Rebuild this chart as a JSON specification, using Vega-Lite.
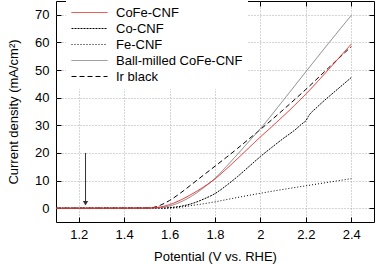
{
  "$schema": "https://vega.github.io/schema/vega-lite/v6.json",
  "width": 318,
  "height": 221,
  "autosize": {"type": "none"},
  "padding": {"left": 56, "top": 1, "right": 2, "bottom": 42},
  "config": {
    "view": {"stroke": "#000", "strokeWidth": 1},
    "font": "Liberation Sans",
    "axis": {
      "labelFont": "Liberation Sans",
      "labelFontSize": 13,
      "labelColor": "#000",
      "titleFont": "Liberation Sans",
      "titleFontSize": 13,
      "titleFontWeight": "normal",
      "titleColor": "#000",
      "domain": false,
      "tickColor": "#000",
      "tickSize": -5,
      "gridColor": "#aaaaaa",
      "gridDash": [1, 2],
      "gridWidth": 1
    },
    "legend": {
      "labelFont": "Liberation Sans",
      "labelFontSize": 13,
      "labelColor": "#000"
    }
  },
  "datasets": {
    "curves": [
      {"s": "Fe-CNF", "v": 1.1, "j": 0}, {"s": "Fe-CNF", "v": 1.6, "j": 0.05}, {"s": "Fe-CNF", "v": 1.65, "j": 0.4}, {"s": "Fe-CNF", "v": 1.7, "j": 1.0}, {"s": "Fe-CNF", "v": 1.75, "j": 1.6}, {"s": "Fe-CNF", "v": 1.8, "j": 2.3}, {"s": "Fe-CNF", "v": 1.9, "j": 3.9}, {"s": "Fe-CNF", "v": 2.0, "j": 5.4}, {"s": "Fe-CNF", "v": 2.1, "j": 6.8}, {"s": "Fe-CNF", "v": 2.2, "j": 8.1}, {"s": "Fe-CNF", "v": 2.3, "j": 9.4}, {"s": "Fe-CNF", "v": 2.4, "j": 10.7},
      {"s": "Co-CNF", "v": 1.1, "j": 0}, {"s": "Co-CNF", "v": 1.58, "j": 0.05}, {"s": "Co-CNF", "v": 1.6, "j": 0.2}, {"s": "Co-CNF", "v": 1.65, "j": 0.7}, {"s": "Co-CNF", "v": 1.7, "j": 1.7}, {"s": "Co-CNF", "v": 1.75, "j": 3.3}, {"s": "Co-CNF", "v": 1.8, "j": 5.3}, {"s": "Co-CNF", "v": 1.85, "j": 8.2}, {"s": "Co-CNF", "v": 1.9, "j": 11.5}, {"s": "Co-CNF", "v": 1.95, "j": 15.1}, {"s": "Co-CNF", "v": 2.0, "j": 18.7}, {"s": "Co-CNF", "v": 2.05, "j": 22.0}, {"s": "Co-CNF", "v": 2.1, "j": 25.2}, {"s": "Co-CNF", "v": 2.15, "j": 28.2}, {"s": "Co-CNF", "v": 2.19, "j": 31.0}, {"s": "Co-CNF", "v": 2.2, "j": 31.6}, {"s": "Co-CNF", "v": 2.21, "j": 33.1}, {"s": "Co-CNF", "v": 2.25, "j": 36.6}, {"s": "Co-CNF", "v": 2.3, "j": 40.3}, {"s": "Co-CNF", "v": 2.35, "j": 43.8}, {"s": "Co-CNF", "v": 2.4, "j": 47.3},
      {"s": "Ir black", "v": 1.1, "j": 0}, {"s": "Ir black", "v": 1.5, "j": 0.05}, {"s": "Ir black", "v": 1.53, "j": 0.3}, {"s": "Ir black", "v": 1.56, "j": 1.1}, {"s": "Ir black", "v": 1.6, "j": 2.8}, {"s": "Ir black", "v": 1.65, "j": 5.6}, {"s": "Ir black", "v": 1.7, "j": 8.8}, {"s": "Ir black", "v": 1.75, "j": 12.0}, {"s": "Ir black", "v": 1.8, "j": 15.2}, {"s": "Ir black", "v": 1.85, "j": 18.4}, {"s": "Ir black", "v": 1.9, "j": 21.7}, {"s": "Ir black", "v": 1.95, "j": 25.1}, {"s": "Ir black", "v": 2.0, "j": 28.5}, {"s": "Ir black", "v": 2.1, "j": 35.6}, {"s": "Ir black", "v": 2.2, "j": 43.0}, {"s": "Ir black", "v": 2.3, "j": 50.8}, {"s": "Ir black", "v": 2.4, "j": 58.5},
      {"s": "Ball-milled CoFe-CNF", "v": 1.1, "j": 0}, {"s": "Ball-milled CoFe-CNF", "v": 1.52, "j": 0.02}, {"s": "Ball-milled CoFe-CNF", "v": 1.56, "j": 0.2}, {"s": "Ball-milled CoFe-CNF", "v": 1.6, "j": 0.8}, {"s": "Ball-milled CoFe-CNF", "v": 1.65, "j": 2.3}, {"s": "Ball-milled CoFe-CNF", "v": 1.7, "j": 4.5}, {"s": "Ball-milled CoFe-CNF", "v": 1.75, "j": 7.4}, {"s": "Ball-milled CoFe-CNF", "v": 1.8, "j": 10.8}, {"s": "Ball-milled CoFe-CNF", "v": 1.85, "j": 15.1}, {"s": "Ball-milled CoFe-CNF", "v": 1.9, "j": 19.6}, {"s": "Ball-milled CoFe-CNF", "v": 1.95, "j": 24.2}, {"s": "Ball-milled CoFe-CNF", "v": 2.0, "j": 28.8}, {"s": "Ball-milled CoFe-CNF", "v": 2.1, "j": 39.0}, {"s": "Ball-milled CoFe-CNF", "v": 2.2, "j": 49.4}, {"s": "Ball-milled CoFe-CNF", "v": 2.3, "j": 59.7}, {"s": "Ball-milled CoFe-CNF", "v": 2.4, "j": 69.8},
      {"s": "CoFe-CNF", "v": 1.1, "j": 0}, {"s": "CoFe-CNF", "v": 1.5, "j": 0.05}, {"s": "CoFe-CNF", "v": 1.53, "j": 0.15}, {"s": "CoFe-CNF", "v": 1.56, "j": 0.45}, {"s": "CoFe-CNF", "v": 1.6, "j": 1.3}, {"s": "CoFe-CNF", "v": 1.65, "j": 3.0}, {"s": "CoFe-CNF", "v": 1.7, "j": 5.2}, {"s": "CoFe-CNF", "v": 1.75, "j": 7.7}, {"s": "CoFe-CNF", "v": 1.8, "j": 10.6}, {"s": "CoFe-CNF", "v": 1.85, "j": 14.2}, {"s": "CoFe-CNF", "v": 1.9, "j": 18.0}, {"s": "CoFe-CNF", "v": 1.95, "j": 21.9}, {"s": "CoFe-CNF", "v": 2.0, "j": 25.8}, {"s": "CoFe-CNF", "v": 2.05, "j": 29.5}, {"s": "CoFe-CNF", "v": 2.1, "j": 33.3}, {"s": "CoFe-CNF", "v": 2.15, "j": 37.2}, {"s": "CoFe-CNF", "v": 2.2, "j": 41.3}, {"s": "CoFe-CNF", "v": 2.25, "j": 45.7}, {"s": "CoFe-CNF", "v": 2.3, "j": 50.2}, {"s": "CoFe-CNF", "v": 2.35, "j": 54.8}, {"s": "CoFe-CNF", "v": 2.4, "j": 59.4}
    ],
    "arrow": [{"v": 1.23, "top": 20, "tip": 2.6, "head": 1.8}]
  },
  "layer": [
    {
      "data": {"name": "curves"},
      "mark": {"type": "line", "strokeWidth": 1, "interpolate": "monotone"},
      "encoding": {
        "x": {
          "field": "v", "type": "quantitative",
          "scale": {"domain": [1.1, 2.5], "nice": false, "zero": false},
          "axis": {"orient": "bottom", "values": [1.2, 1.4, 1.6, 1.8, 2.0, 2.2, 2.4], "format": "~g", "grid": true, "labelPadding": 11, "title": "Potential (V vs. RHE)", "titlePadding": 9}
        },
        "y": {
          "field": "j", "type": "quantitative",
          "scale": {"domain": [-5, 75], "nice": false, "zero": false},
          "axis": {"orient": "left", "values": [0, 10, 20, 30, 40, 50, 60, 70], "grid": true, "labelPadding": 12, "title": "Current density (mA/cm²)", "titlePadding": 14}
        },
        "color": {
          "field": "s", "type": "nominal",
          "scale": {"domain": ["CoFe-CNF", "Co-CNF", "Fe-CNF", "Ball-milled CoFe-CNF", "Ir black"], "range": ["#ee2222", "#000000", "#000000", "#808080", "#000000"]},
          "legend": {"title": null, "orient": "none", "legendX": 10, "legendY": 0, "padding": 5, "fillColor": "#ffffff", "symbolType": "M-1,0H5", "symbolSize": 144, "symbolStrokeWidth": 1, "labelOffset": 32, "rowPadding": 2, "labelExpr": "datum.label == 'Ball-milled CoFe-CNF' ? datum.label + '    ' : datum.label"}
        },
        "strokeDash": {
          "field": "s", "type": "nominal",
          "scale": {"domain": ["CoFe-CNF", "Co-CNF", "Fe-CNF", "Ball-milled CoFe-CNF", "Ir black"], "range": [[1, 0], [2, 1], [1, 2], [1, 0], [5, 3]]},
          "legend": {"title": null, "orient": "none", "legendX": 10, "legendY": 0, "padding": 5, "fillColor": "#ffffff", "symbolType": "M-1,0H5", "symbolSize": 144, "symbolStrokeWidth": 1, "labelOffset": 32, "rowPadding": 2, "labelExpr": "datum.label == 'Ball-milled CoFe-CNF' ? datum.label + '    ' : datum.label"}
        }
      }
    },
    {
      "data": {"name": "arrow"},
      "mark": {"type": "rule", "color": "#333333", "strokeWidth": 1},
      "encoding": {
        "x": {"field": "v", "type": "quantitative", "axis": null},
        "y": {"field": "top", "type": "quantitative", "axis": null},
        "y2": {"field": "tip"}
      }
    },
    {
      "data": {"name": "arrow"},
      "mark": {"type": "point", "shape": "triangle-down", "filled": true, "color": "#333333", "size": 28, "opacity": 1},
      "encoding": {
        "x": {"field": "v", "type": "quantitative", "axis": null},
        "y": {"field": "head", "type": "quantitative", "axis": null}
      }
    },
    {
      "data": {"name": "arrow"},
      "mark": {"type": "point", "opacity": 0},
      "encoding": {
        "x": {"field": "v", "type": "quantitative", "axis": {"orient": "top", "values": [1.2, 1.4, 1.6, 1.8, 2.0, 2.2, 2.4], "labels": false, "grid": false, "title": null}},
        "y": {"field": "head", "type": "quantitative", "axis": {"orient": "right", "values": [0, 10, 20, 30, 40, 50, 60, 70], "labels": false, "grid": false, "title": null}}
      }
    }
  ],
  "resolve": {"axis": {"x": "independent", "y": "independent"}}
}
